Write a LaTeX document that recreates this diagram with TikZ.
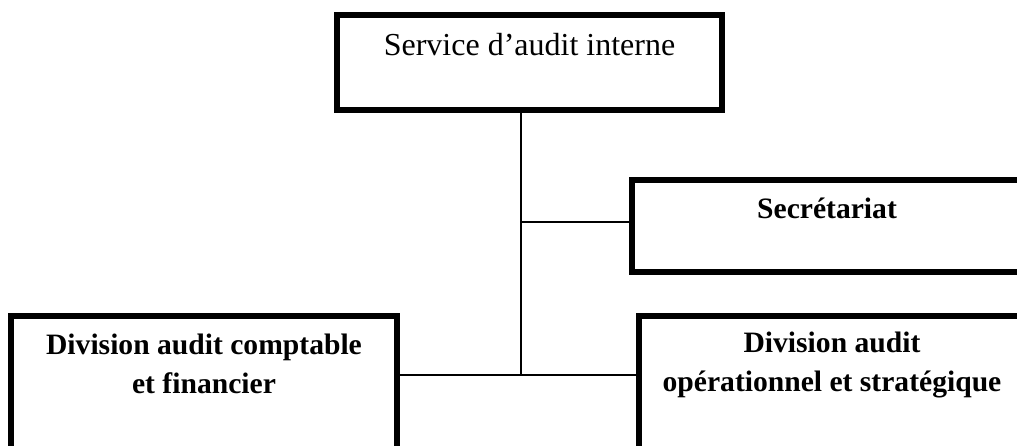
\documentclass[tikz,border=0pt]{standalone}
\usepackage{fontspec}
\setmainfont{Liberation Serif}
\usetikzlibrary{positioning}

\begin{document}
\begin{tikzpicture}[x=0.5pt,y=-0.5pt]
\tikzstyle{unit}=[draw=black,line width=3pt,rectangle,inner sep=0pt]
\tikzstyle{headtext}=[font=\fontsize{16}{19}\selectfont,inner sep=0pt,anchor=base]
\tikzstyle{divtext}=[font=\bfseries\fontsize{14.8}{19.5}\selectfont,inner sep=0pt,align=center,anchor=base]
\tikzstyle{link}=[line width=1pt]
\useasboundingbox (0,0) rectangle (1017,445);
% boxes
\node[unit,minimum width=192.5pt,minimum height=47.5pt] (service) at (529.5,62.5) {};
\node[unit,minimum width=195pt,minimum height=46pt] (secretariat) at (827,226) {};
\node[unit,minimum width=193pt,minimum height=80pt] (comptable) at (204,396) {};
\node[unit,minimum width=193.5pt,minimum height=80pt] (operationnel) at (832,396) {};
% texts (base of a two-line node sits on its last line)
\node[headtext] (t1) at ([yshift=-21.5pt]service.north) {Service d’audit interne};
\node[divtext] (t2) at ([yshift=-20.5pt]secretariat.north) {Secrétariat};
\node[divtext] (t3) at ([yshift=-40pt]comptable.north) {Division audit comptable\\et financier};
\node[divtext] (t4) at ([yshift=-39pt]operationnel.north) {Division audit\\opérationnel et stratégique};
% links
\coordinate (trunk) at (521,375);
\coordinate (tee) at (521,222);
\draw[link] (service.south -| trunk) -- (trunk);
\draw[link] (tee) -- (tee -| secretariat.west);
\draw[link] (comptable.east |- trunk) -- (operationnel.west |- trunk);
\end{tikzpicture}
\end{document}
